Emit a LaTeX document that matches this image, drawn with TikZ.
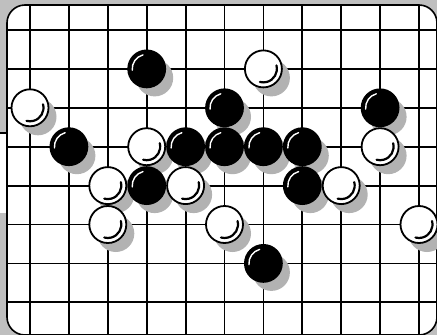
\documentclass[tikz,border=0pt]{standalone}
\usepackage{tikz}

% stones as col/row on the grid
\newcommand{\whitestones}{6/1, 0/2, 3/3, 9/3, 2/4, 4/4, 8/4, 2/5, 5/5, 10/5}
\newcommand{\blackstones}{3/1, 5/2, 9/2, 1/3, 4/3, 5/3, 6/3, 7/3, 3/4, 7/4, 6/6}

\tikzset{
    stone/.style={circle, draw=black, line width=1.8pt, minimum size=37pt, inner sep=0pt},
    wstone/.style={stone, fill=white,
        path picture={\draw[line width=2.2pt, line cap=round]
            ([shift={(-15:13.5)}]path picture bounding box.center) arc (-15:105:13.5);}},
    bstone/.style={stone, fill=black,
        path picture={\draw[white, line width=1.4pt, line cap=round]
            ([shift={(175:14.5)}]path picture bounding box.center) arc (175:255:14.5);}},
    stoneshadow/.style={fill=black!30},
    gridline/.style={line width=1.8pt}
}

\begin{document}
\begin{tikzpicture}[x=1pt, y=-1pt]
    \useasboundingbox (0,0) rectangle (437,335);

    % --- background ---
    \fill[black!25] (0,0) rectangle (437,335);
    \fill[white] (0,133) rectangle (7,213);
    \draw[line width=1.5pt] (0,133) -- (7,133);

    % --- board ---
    \fill[white, rounded corners=18pt] (7,5) rectangle (437,335);
    \begin{scope}
        \clip[rounded corners=18pt] (7,5) rectangle (437,335);
        \foreach \c in {0,...,10}
            \draw[gridline] ({30+38.9*\c},0) -- ({30+38.9*\c},340);
        \foreach \r in {0,...,7}
            \draw[gridline] (0,{30+38.9*\r}) -- (440,{30+38.9*\r});
    \end{scope}
    \draw[line width=1.6pt, rounded corners=18pt] (7,5) rectangle (437,335);

    % --- shadows first, under every stone ---
    \foreach \c/\r in \whitestones
        \fill[stoneshadow] ({30+38.9*\c+8},{30+38.9*\r+9}) circle (18.5);
    \foreach \c/\r in \blackstones
        \fill[stoneshadow] ({30+38.9*\c+8},{30+38.9*\r+9}) circle (18.5);

    % --- stones ---
    \foreach \c/\r [count=\i] in \whitestones
        \node[wstone] (w\i) at ({30+38.9*\c},{30+38.9*\r}) {};
    \foreach \c/\r [count=\i] in \blackstones
        \node[bstone] (b\i) at ({30+38.9*\c},{30+38.9*\r}) {};

\end{tikzpicture}
\end{document}
